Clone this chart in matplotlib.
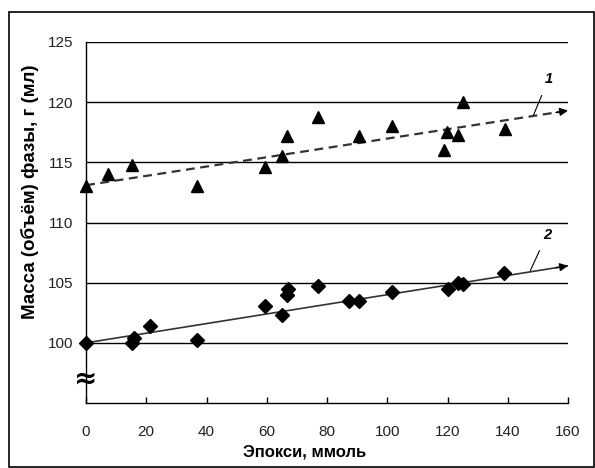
import matplotlib
matplotlib.use("Agg")
import matplotlib.pyplot as plt
from matplotlib.patches import Rectangle

plt.rcParams["font.family"] = ["Liberation Sans", "DejaVu Sans"]

# серия 1 (треугольники)
x1 = [0, 7.4, 15.4, 36.7, 59.4, 65.2, 66.8, 77.0, 90.7, 101.7, 118.8, 119.9, 123.5, 125.0, 139.0]
y1 = [113.0, 114.0, 114.8, 113.0, 114.6, 115.5, 117.2, 118.8, 117.2, 118.0, 116.0, 117.5, 117.3, 120.0, 117.8]

# серия 2 (ромбы)
x2 = [0, 15.4, 15.9, 21.2, 36.7, 59.4, 65.2, 66.8, 67.2, 77.0, 87.4, 90.7, 101.7, 120.2, 123.4, 125.2, 138.9]
y2 = [100.0, 100.0, 100.4, 101.4, 100.2, 103.1, 102.3, 104.0, 104.5, 104.7, 103.5, 103.5, 104.2, 104.5, 105.0, 104.9, 105.8]

# линии тренда: начало и конец
trend_x = [0, 160]
trend1_y = [113.1, 119.3]
trend2_y = [100.0, 106.4]

x_ticks = [0, 20, 40, 60, 80, 100, 120, 140, 160]
y_ticks = [100, 105, 110, 115, 120, 125]

fig = plt.figure(figsize=(5.95, 4.68), dpi=100)
ax = fig.add_axes([86 / 595, 65 / 468, 482 / 595, 361 / 468])

# рамка вокруг всего рисунка
fig.patches.append(Rectangle((9 / 595, 1 / 468), 585 / 595, 455 / 468,
                             transform=fig.transFigure, fill=False,
                             edgecolor="black", lw=1.2))

for yt in y_ticks:
    ax.axhline(yt, color="black", lw=1, zorder=1)

ax.plot(trend_x, trend1_y, color="#333333", lw=1.6, ls=(0, (4, 2.5)), zorder=2)
ax.plot(trend_x, trend2_y, color="#333333", lw=1.2, zorder=2)

# наконечники стрелок
for ty in (trend1_y, trend2_y):
    slope = (ty[1] - ty[0]) / (trend_x[1] - trend_x[0])
    ax.annotate("", xy=(trend_x[1], ty[1]),
                xytext=(trend_x[1] - 4, ty[1] - slope * 4),
                arrowprops=dict(arrowstyle="-|>", color="black", lw=1,
                                mutation_scale=12, shrinkA=0, shrinkB=0),
                annotation_clip=False, zorder=3)

ax.plot(x1, y1, ls="none", marker="^", ms=9, color="black", clip_on=False, zorder=4)
ax.plot(x2, y2, ls="none", marker="D", ms=7, color="black", clip_on=False, zorder=4)

# подписи линий
ax.annotate("1", xy=(148.5, 118.9), xytext=(153.5, 121.9),
            fontsize=10.5, fontweight="bold", fontstyle="italic",
            ha="center", va="center",
            arrowprops=dict(arrowstyle="-", color="black", lw=0.8, shrinkA=5, shrinkB=0))
ax.annotate("2", xy=(147.5, 106.0), xytext=(153.0, 109.0),
            fontsize=10.5, fontweight="bold", fontstyle="italic",
            ha="center", va="center",
            arrowprops=dict(arrowstyle="-", color="black", lw=0.8, shrinkA=5, shrinkB=0))

# знак разрыва оси
ax.text(0, 97, "≈", fontsize=20, fontweight="bold", ha="center", va="center",
        family=["DejaVu Sans"], zorder=5)

ax.set_xlim(0, 160)
ax.set_ylim(95, 125)
ax.set_xticks(x_ticks)
ax.set_yticks(y_ticks)
ax.tick_params(axis="x", direction="in", length=4, width=1, pad=16,
               labelsize=11, labelcolor="#222222")
ax.tick_params(axis="y", length=0, pad=9, labelsize=11, labelcolor="#222222")

ax.spines["top"].set_visible(False)
ax.spines["right"].set_visible(False)
ax.spines["left"].set_linewidth(1)
ax.spines["bottom"].set_linewidth(1)

fig.text(305 / 595, 1 - 452 / 468, "Эпокси, ммоль", fontsize=12,
         fontweight="bold", ha="center", va="center")
fig.text(30 / 595, 1 - 192 / 468, "Масса (объём) фазы, г (мл)", fontsize=13.5,
         fontweight="bold", ha="center", va="center", rotation=90)

fig.savefig("out.png", dpi=100)
